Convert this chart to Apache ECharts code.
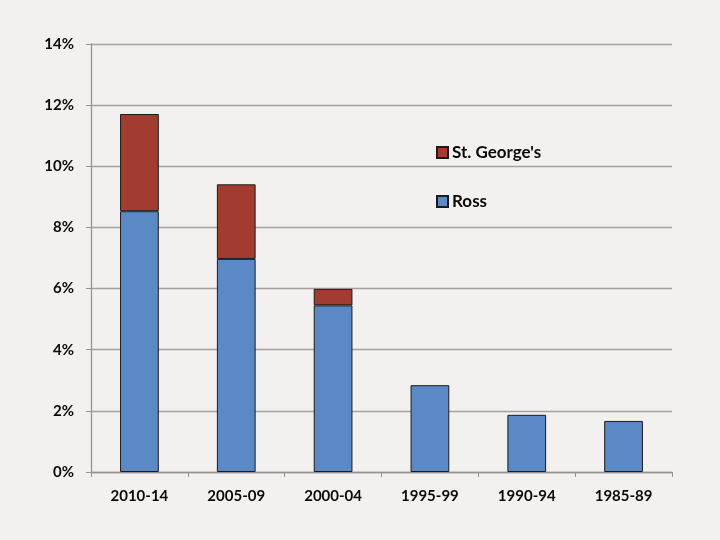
<!DOCTYPE html>
<html>
<head>
<meta charset="utf-8">
<script src="https://cdn.jsdelivr.net/npm/echarts@6/dist/echarts.min.js"></script>
<style>
  html, body { margin: 0; padding: 0; background: #f2f1ef; }
  #chart { width: 720px; height: 540px; }
</style>
</head>
<body>
<div id="chart"></div>
<script>
// periods, newest first
var periods = ['2010-14', '2005-09', '2000-04', '1995-99', '1990-94', '1985-89'];
// share in %, stacked
var ross = [8.53, 6.97, 5.45, 2.84, 1.87, 1.67];
var stGeorges = [3.18, 2.44, 0.54, null, null, null];
var yTicks = [0, 2, 4, 6, 8, 10, 12, 14];

var chart = echarts.init(document.getElementById('chart'));
var labelFont = { fontFamily: 'Lato', fontWeight: 'bold', fontSize: 15, color: '#0a0a0a' };

chart.setOption({
  backgroundColor: '#f2f1ef',
  animation: false,
  grid: { left: 91, right: 48, top: 44, bottom: 68 },
  legend: {
    orient: 'vertical',
    left: 431,
    top: 139,
    itemGap: 32,
    itemWidth: 11,
    itemHeight: 11,
    icon: 'rect',
    data: ["St. George's", 'Ross'],
    textStyle: { fontFamily: 'Lato', fontWeight: 'bold', fontSize: 17, color: '#0a0a0a', padding: [0, 0, 0, -1] }
  },
  xAxis: {
    type: 'category',
    data: periods,
    axisLine: { lineStyle: { color: '#9a9290', width: 1.3 } },
    axisTick: { show: true, length: 5, lineStyle: { color: '#9a9290' } },
    axisLabel: Object.assign({ margin: 17 }, labelFont)
  },
  yAxis: {
    type: 'value',
    min: yTicks[0],
    max: yTicks[yTicks.length - 1],
    interval: 2,
    axisLine: { show: true, lineStyle: { color: '#9a9290', width: 1.3 } },
    axisTick: { show: true, length: 5, lineStyle: { color: '#9a9290' } },
    splitLine: { lineStyle: { color: '#a8a09e', width: 1.3 } },
    axisLabel: Object.assign({ margin: 17, formatter: '{value}%' }, labelFont)
  },
  series: [
    {
      name: 'Ross',
      type: 'bar',
      stack: 'total',
      barWidth: '40%',
      data: ross,
      itemStyle: { color: '#5b89c6', borderColor: '#1b1b1b', borderWidth: 1 }
    },
    {
      name: "St. George's",
      type: 'bar',
      stack: 'total',
      barWidth: '40%',
      data: stGeorges,
      itemStyle: { color: '#a23c30', borderColor: '#1b1b1b', borderWidth: 1 }
    }
  ]
});
</script>
</body>
</html>
